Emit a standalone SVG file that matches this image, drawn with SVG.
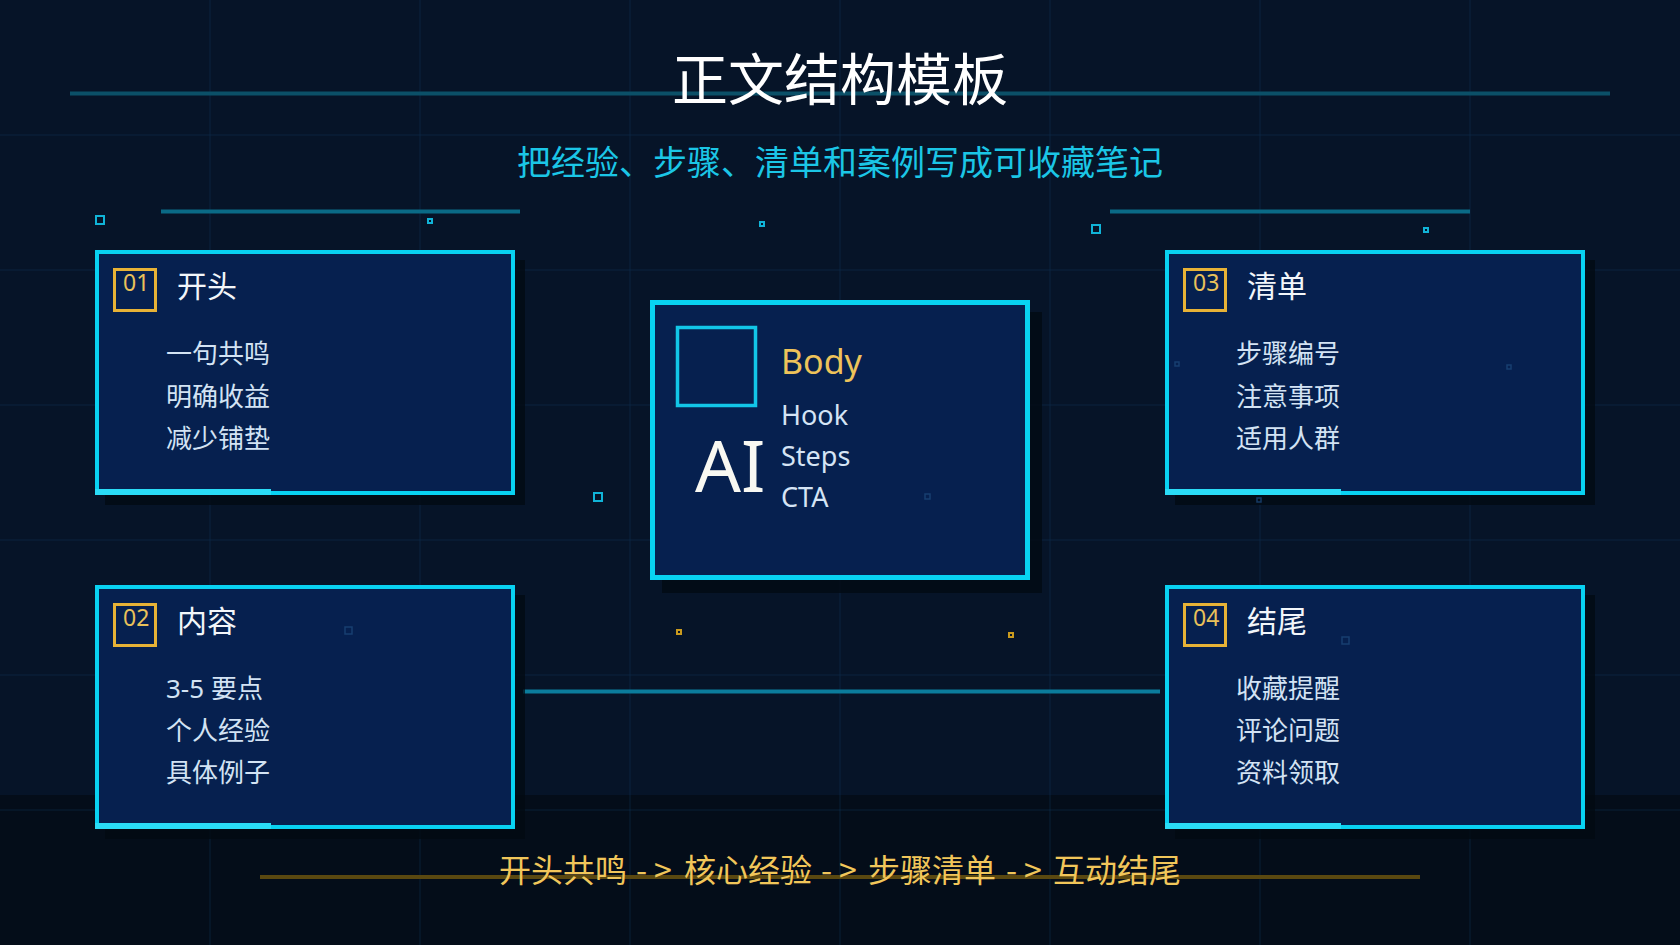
<svg xmlns="http://www.w3.org/2000/svg" width="1680" height="945" viewBox="0 0 1680 945">
<defs>
<style>
.grid{stroke:#0e3150;stroke-width:1;opacity:.55}
.box{fill:#06204f;stroke:#08d2f2;stroke-width:4}
.shadow{fill:#020912;opacity:.75}
.accent{fill:#2adcf6}
.badge{fill:none;stroke:#e7b236;stroke-width:3}
.num{font-family:"Noto Sans","Open Sans",sans-serif;font-size:23px;fill:#e9c15a}
.head{font-family:"Noto Sans CJK SC","Noto Sans",sans-serif;font-size:30px;fill:#f2f6fa}
.item{font-family:"Noto Sans CJK SC","Noto Sans",sans-serif;font-size:26px;fill:#d3e3f4}
.lat{font-family:"Noto Sans","Open Sans","Noto Sans CJK SC",sans-serif}
.dot{fill:none;stroke:#10b4d8;stroke-width:2}
.gdot{fill:none;stroke:#c99a1e;stroke-width:2}
.fdot{fill:none;stroke:#1c4678;stroke-width:1.5;opacity:.8}
.arr{letter-spacing:7px}
</style>
</defs>
<rect x="0" y="0" width="1680" height="945" fill="#061428"/>
<rect x="0" y="795" width="1680" height="150" fill="#040d19"/>
<g id="grid">
<line class="grid" x1="210" y1="0" x2="210" y2="945"/>
<line class="grid" x1="420" y1="0" x2="420" y2="945"/>
<line class="grid" x1="630" y1="0" x2="630" y2="945"/>
<line class="grid" x1="840" y1="0" x2="840" y2="945"/>
<line class="grid" x1="1050" y1="0" x2="1050" y2="945"/>
<line class="grid" x1="1260" y1="0" x2="1260" y2="945"/>
<line class="grid" x1="1470" y1="0" x2="1470" y2="945"/>
<line class="grid" x1="0" y1="135" x2="1680" y2="135"/>
<line class="grid" x1="0" y1="270" x2="1680" y2="270"/>
<line class="grid" x1="0" y1="405" x2="1680" y2="405"/>
<line class="grid" x1="0" y1="540" x2="1680" y2="540"/>
<line class="grid" x1="0" y1="675" x2="1680" y2="675"/>
<line class="grid" x1="0" y1="810" x2="1680" y2="810"/>
</g>
<g id="decor">
<line x1="70" y1="93.5" x2="1610" y2="93.5" stroke="#0b5068" stroke-width="4"/>
<line x1="161" y1="211.5" x2="520" y2="211.5" stroke="#0a6a86" stroke-width="4"/>
<line x1="1110" y1="211.5" x2="1470" y2="211.5" stroke="#0a6a86" stroke-width="4"/>
<line x1="260" y1="877" x2="1420" y2="877" stroke="#5a4810" stroke-width="4"/>
<rect class="dot" x="96" y="216" width="8" height="8"/>
<rect class="dot" x="428" y="219" width="4" height="4"/>
<rect class="dot" x="760" y="222" width="4" height="4"/>
<rect class="dot" x="1092" y="225" width="8" height="8"/>
<rect class="dot" x="1424" y="228" width="4" height="4"/>
<rect class="dot" x="594" y="493" width="8" height="8"/>
<rect class="gdot" x="677" y="630" width="4" height="4"/>
<rect class="gdot" x="1009" y="633" width="4" height="4"/>
</g>
<g id="title">
<text x="840" y="100" text-anchor="middle" font-family="Noto Sans CJK SC, sans-serif" font-size="56" fill="#ffffff">正文结构模板</text>
<text x="840" y="175" text-anchor="middle" font-family="Noto Sans CJK SC, sans-serif" font-size="34" fill="#1bc6e6">把经验、步骤、清单和案例写成可收藏笔记</text>
</g>
<g id="connectors">
<line x1="523" y1="691.5" x2="1160" y2="691.5" stroke="#0b7c9c" stroke-width="4"/>
</g>
<g id="node-01">
<rect class="shadow" x="105" y="260" width="420" height="245"/>
<rect class="box" x="97" y="252" width="416" height="241"/>
<rect class="accent" x="95" y="489" width="176" height="6"/>
<rect class="badge" x="114.5" y="269.5" width="41" height="41"/>
<text class="num" x="123" y="291">01</text>
<text class="head" x="177" y="297">开头</text>
<text class="item" x="166" y="363">一句共鸣</text>
<text class="item" x="166" y="406">明确收益</text>
<text class="item" x="166" y="448">减少铺垫</text>
</g>
<g id="node-02">
<rect class="shadow" x="105" y="595" width="420" height="244"/>
<rect class="box" x="97" y="587" width="416" height="240"/>
<rect class="accent" x="95" y="823" width="176" height="6"/>
<rect class="badge" x="114.5" y="604.5" width="41" height="41"/>
<text class="num" x="123" y="626">02</text>
<text class="head" x="177" y="632">内容</text>
<text class="item" x="166" y="698"><tspan class="lat">3-5 </tspan>要点</text>
<text class="item" x="166" y="740">个人经验</text>
<text class="item" x="166" y="782">具体例子</text>
</g>
<g id="node-03">
<rect class="shadow" x="1175" y="260" width="420" height="245"/>
<rect class="box" x="1167" y="252" width="416" height="241"/>
<rect class="accent" x="1165" y="489" width="176" height="6"/>
<rect class="badge" x="1184.5" y="269.5" width="41" height="41"/>
<text class="num" x="1193" y="291">03</text>
<text class="head" x="1247" y="297">清单</text>
<text class="item" x="1236" y="363">步骤编号</text>
<text class="item" x="1236" y="406">注意事项</text>
<text class="item" x="1236" y="448">适用人群</text>
</g>
<g id="node-04">
<rect class="shadow" x="1175" y="595" width="420" height="244"/>
<rect class="box" x="1167" y="587" width="416" height="240"/>
<rect class="accent" x="1165" y="823" width="176" height="6"/>
<rect class="badge" x="1184.5" y="604.5" width="41" height="41"/>
<text class="num" x="1193" y="626">04</text>
<text class="head" x="1247" y="632">结尾</text>
<text class="item" x="1236" y="698">收藏提醒</text>
<text class="item" x="1236" y="740">评论问题</text>
<text class="item" x="1236" y="782">资料领取</text>
</g>
<g id="node-body">
<rect class="shadow" x="662" y="312" width="380" height="281"/>
<rect x="652.5" y="302.5" width="375" height="275" fill="#06204f" stroke="#08d2f2" stroke-width="5"/>
<rect x="677.5" y="327.5" width="78" height="78" fill="none" stroke="#12c6e8" stroke-width="3.5"/>
<text x="695" y="492" font-family="Noto Sans, Open Sans, sans-serif" font-size="72" fill="#f8f8f2">AI</text>
<text x="781" y="374" font-family="Noto Sans, Open Sans, sans-serif" font-size="34" fill="#eec35a">Body</text>
<text x="781" y="425" font-family="Noto Sans, Open Sans, sans-serif" font-size="27" fill="#d5e4f5">Hook</text>
<text x="781" y="466" font-family="Noto Sans, Open Sans, sans-serif" font-size="27" fill="#d5e4f5">Steps</text>
<text x="781" y="507" font-family="Noto Sans, Open Sans, sans-serif" font-size="27" fill="#d5e4f5">CTA</text>
</g>
<g id="particles">
<rect class="fdot" x="925" y="494" width="5" height="5"/>
<rect class="fdot" x="345" y="627" width="7" height="7"/>
<rect class="fdot" x="1342" y="637" width="7" height="7"/>
<rect class="fdot" x="1175" y="362" width="4" height="4"/>
<rect class="fdot" x="1507" y="365" width="4" height="4"/>
<rect class="fdot" x="1257" y="498" width="4" height="4"/>
</g>
<g id="footer">
<text y="882" font-family="Noto Sans CJK SC, sans-serif" font-size="32" fill="#f1c65a"><tspan x="499">开头共鸣</tspan><tspan class="arr" x="636">-&gt;</tspan><tspan x="684">核心经验</tspan><tspan class="arr" x="821">-&gt;</tspan><tspan x="868">步骤清单</tspan><tspan class="arr" x="1006">-&gt;</tspan><tspan x="1053">互动结尾</tspan></text>
</g>
</svg>
